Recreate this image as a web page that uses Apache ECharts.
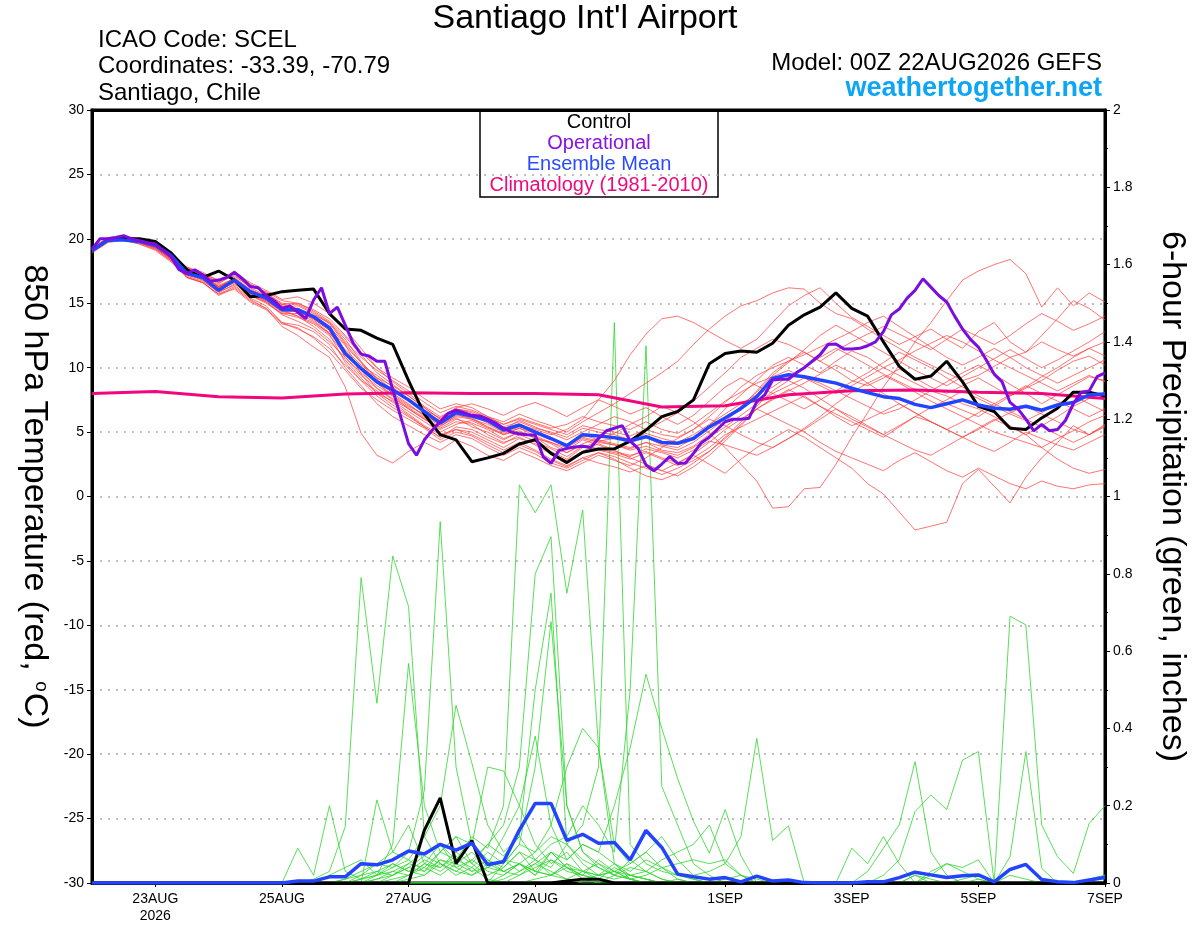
<!DOCTYPE html>
<html>
<head>
<meta charset="utf-8">
<title>Santiago Int'l Airport - GEFS 850 hPa temperature / precipitation</title>
<script src="https://cdn.jsdelivr.net/npm/echarts@6/dist/echarts.min.js"></script>
<style>
  html, body { margin: 0; padding: 0; background: #fff; }
  #chart { width: 1200px; height: 927px; }
</style>
</head>
<body>
<div id="chart"></div>
<script>
// forecast steps (hours after 00Z 22AUG2026)
const STEP_H = 6;        // ensemble members, control, mean
const OP_STEP_H = 3;     // operational run
const CLIM_STEP_H = 24;  // climatology, daily

const tickHours = [24, 72, 120, 168, 240, 288, 336, 384];
const tickLabels = ['23AUG\n2026', '25AUG', '27AUG', '29AUG', '1SEP', '3SEP', '5SEP', '7SEP'];

// 850 hPa temperature, degC
const controlTemp = [
  19.1, 19.9, 20.0, 20.0, 19.8, 18.9, 17.6, 17.0, 17.5, 16.8, 15.5, 15.6, 15.9,
  16.0, 16.1, 14.2, 13.0, 12.9, 12.3, 11.8, 9.0, 6.4, 4.8, 4.4, 2.7, 3.0,
  3.35, 4.07, 4.4, 3.35, 2.63, 3.43, 3.69, 3.7, 4.3, 5.16, 6.2, 6.6, 7.5,
  10.3, 11.1, 11.3, 11.2, 11.9, 13.3, 14.1, 14.7, 15.8, 14.6, 14.0, 12.0, 10.1,
  9.1, 9.35, 10.5, 8.9, 7.0, 6.6, 5.3, 5.2, 6.1, 6.85, 8.1, 8.1, 7.8
];
const meanTemp = [
  19.1, 19.9, 19.9, 19.8, 19.5, 18.7, 17.3, 17.0, 16.0, 16.8, 15.9, 15.4, 14.5,
  14.5, 13.95, 13.1, 11.1, 9.94, 8.9, 8.26, 7.5, 6.6, 5.7, 6.5, 6.25, 5.9,
  5.16, 5.55, 5.0, 4.5, 3.95, 4.8, 4.7, 4.57, 4.33, 4.64, 4.2, 4.13, 4.5,
  5.4, 6.1, 6.84, 7.75, 9.17, 9.45, 9.3, 9.04, 8.8, 8.4, 8.06, 7.75, 7.6,
  7.15, 6.9, 7.2, 7.5, 7.1, 6.85, 6.77, 7.0, 6.7, 7.1, 7.3, 7.9, 7.95
];
const opTemp = [
  19.2, 20.0, 20.0, 20.1, 20.25, 20.0, 19.85, 19.7,
  19.6, 19.1, 18.6, 17.6, 17.3, 17.6, 17.2, 16.7,
  16.8, 17.0, 17.4, 16.9, 16.3, 16.2, 15.6, 15.2,
  14.6, 14.8, 14.3, 13.8, 15.25, 16.2, 14.2, 14.7,
  13.3, 11.9, 11.05, 10.9, 10.5, 10.5, 8.3, 6.2,
  4.1, 3.2, 4.4, 5.15, 5.8, 6.45, 6.7, 6.5,
  6.3, 6.25, 6.0, 5.7, 5.3, 5.0, 4.85, 4.8,
  4.77, 3.1, 2.57, 3.56, 3.74, 3.85, 3.9, 3.8,
  4.5, 5.1, 5.3, 5.5, 4.3, 3.74, 2.45, 2.0,
  2.52, 3.1, 2.57, 2.6, 3.35, 4.18, 4.6, 5.2,
  5.8, 6.0, 6.0, 6.07, 7.36, 7.88, 9.04, 9.1,
  9.1, 9.6, 10.0, 10.5, 11.0, 11.8, 11.84, 11.45,
  11.45, 11.5, 11.7, 12.0, 12.8, 14.1, 14.55, 15.4,
  16.0, 16.9, 16.25, 15.6, 15.1, 14.0, 13.0, 12.2,
  11.6, 10.6, 9.5, 8.9, 7.3, 6.8, 6.0, 5.1,
  5.6, 5.1, 5.2, 5.9, 7.2, 8.1, 8.2, 9.3,
  9.6
];
const climTemp = [8.0, 8.15, 7.75, 7.65, 7.95, 8.05, 8.0, 8.0, 7.9, 6.95, 7.05, 7.9, 8.2, 8.27, 8.1, 8.0, 7.6];

const memberTemp = [
  [19.0,19.8,20.1,19.9,19.5, 18.6,17.8,17.2,16.5,17.3, 16.4,15.8,14.9,14.6,14.1, 13.5,12.2,10.5,9.1,8.0, 7.2,6.2,5.5,6.1,5.4, 5.0,4.4,5.0,4.6,3.8, 3.4,4.1,4.5,4.9,5.6, 6.2,7.0,6.5,5.8,4.9, 3.8,2.5,1.2,-0.9,-0.8, 0.6,0.7,2.5,4.6,6.5, 8.5,10.2,12.0,13.5,15.2, 16.8,17.5,18.0,18.4,17.3, 14.7,16.2,14.8,15.8,15.1],
  [19.2,20.0,19.9,19.7,19.3, 18.5,17.5,16.9,16.2,16.6, 15.6,15.0,14.2,13.9,13.4, 12.5,11.0,9.8,8.4,7.5, 6.8,6.0,5.2,5.8,5.6, 4.8,4.2,4.6,4.0,3.3, 2.8,3.5,4.1,3.6,3.0, 2.5,2.0,2.6,3.2,2.5, 1.8,2.9,3.8,4.5,5.2, 4.6,3.8,3.0,2.2,1.0, 0.2,-1.2,-2.6,-2.3,-2.0, 1.0,2.1,0.8,-0.5,1.5, 3.0,4.2,5.5,4.8,5.6],
  [19.1,19.9,20.0,19.8,19.6, 18.8,17.4,17.0,16.4,16.9, 16.0,15.4,14.6,14.3,13.8, 12.9,11.3,10.0,9.2,8.6, 7.8,6.9,6.0,6.6,6.3, 5.7,5.1,5.6,5.2,4.8, 5.2,6.0,7.5,9.0,11.0, 12.6,13.8,14.0,13.5,12.8, 12.1,11.5,12.2,13.5,14.8, 15.6,16.2,15.0,13.9,13.2, 12.5,11.8,12.4,13.0,12.2, 11.5,12.8,13.5,12.0,11.2, 12.5,13.8,15.2,14.6,13.7],
  [19.3,20.1,20.2,19.9,19.4, 18.4,17.6,17.3,16.8,17.1, 16.3,15.9,15.2,15.0,14.5, 13.8,12.5,11.2,10.0,9.2, 8.5,7.6,6.8,7.2,6.9, 6.2,5.8,6.4,5.9,5.5, 5.0,5.8,6.5,7.2,8.0, 8.8,9.6,10.5,11.8,13.0, 14.0,14.8,15.2,15.8,16.2, 16.1,15.0,14.2,13.8,13.0, 12.2,11.5,10.8,10.2,9.6, 9.0,9.4,10.1,10.8,11.2, 12.0,11.4,10.9,11.5,10.9],
  [18.9,19.7,19.9,19.6,19.2, 18.3,17.1,16.7,15.9,16.4, 15.4,14.8,13.5,13.0,12.4, 11.5,10.2,9.0,7.8,6.9, 6.2,5.4,4.6,5.2,4.8, 4.2,3.6,4.2,3.6,2.9, 2.4,3.0,3.4,3.1,2.6, 2.2,1.7,2.2,2.8,3.5, 4.5,5.6,6.8,7.5,8.2, 8.8,9.5,10.2,9.6,8.8, 8.0,7.2,6.5,5.8,5.2, 4.6,5.2,5.9,6.5,7.0, 6.4,5.8,5.2,4.8,5.5],
  [19.0,19.8,20.0,19.8,19.5, 18.7,17.5,17.1,16.1,16.8, 15.8,15.2,14.4,14.6,13.9, 13.2,11.8,9.5,8.0,7.4, 6.6,5.8,5.0,5.6,5.9, 5.3,4.8,5.1,4.5,4.2, 3.8,4.5,4.2,4.0,3.6, 3.9,3.5,3.2,3.8,4.6, 5.4,6.3,7.2,8.0,8.6, 9.2,8.8,8.2,7.6,7.0, 6.4,6.8,7.5,8.2,7.8, 7.2,6.8,6.2,5.5,4.8, 5.5,6.2,7.0,7.6,8.1],
  [19.2,20.0,20.2,19.9,19.4, 18.6,17.3,16.8,15.8,16.5, 15.6,15.1,14.2,14.2,13.6, 12.6,10.4,9.0,8.2,7.3, 6.4,5.5,4.8,5.2,5.0, 4.4,3.8,4.5,4.1,3.5, 2.9,3.8,4.3,4.5,4.2, 4.6,4.0,3.8,4.5,5.5, 6.8,7.9,9.0,10.2,10.8, 10.2,9.6,10.5,11.3,10.8, 10.0,9.4,8.8,8.2,8.9, 9.6,10.2,9.5,8.7,8.0, 7.2,7.9,8.6,9.3,9.0],
  [19.1,19.8,20.0,19.7,19.3, 18.4,17.0,16.6,15.6,16.2, 15.2,14.6,13.2,12.5,11.6, 10.8,8.5,4.9,3.2,2.6, 3.5,4.2,3.6,4.4,3.9, 3.2,2.8,3.5,3.0,2.4, 2.0,2.6,3.2,2.8,2.4, 3.0,3.8,4.5,5.2,6.0, 5.5,4.8,4.2,3.8,4.5, 5.2,6.0,6.8,6.2,5.5, 4.8,5.5,6.2,5.8,5.2, 4.6,4.0,3.5,4.2,5.0, 4.5,4.0,3.6,4.2,4.8],
  [19.0,19.9,20.1,19.8,19.5, 18.7,17.6,17.0,16.2,17.0, 16.1,15.5,14.7,14.8,14.2, 13.4,11.9,10.4,8.8,7.8, 7.0,6.4,5.6,6.4,6.0, 5.6,5.0,5.4,5.1,4.6, 4.0,4.8,4.4,4.1,3.8, 4.2,3.6,3.4,3.9,4.8, 5.8,6.9,8.2,9.6,10.5, 11.2,10.5,9.8,9.0,8.6, 9.2,9.9,9.2,8.5,8.0, 8.6,9.2,8.5,7.8,8.4, 9.0,9.8,10.5,10.9,10.2],
  [19.2,20.0,20.0,19.8,19.4, 18.6,17.4,16.9,16.0,16.6, 15.7,15.2,14.3,14.4,13.8, 12.9,10.8,9.6,8.6,7.8, 6.8,6.0,5.4,6.3,6.1, 5.4,4.9,5.3,4.7,4.2, 3.6,4.4,4.0,3.5,3.2, 3.5,3.0,2.6,3.3,4.2, 5.2,6.0,6.8,6.2,5.6, 5.0,4.2,3.5,3.0,2.5, 2.0,2.8,3.4,2.7,2.0, 1.5,2.2,1.6,1.0,0.6, 1.2,0.8,0.6,0.9,1.0],
  [19.1,19.9,20.1,19.9,19.6, 18.8,17.7,17.3,16.6,17.2, 16.2,15.6,14.9,15.0,14.4, 13.6,12.4,11.0,9.6,8.7, 7.8,6.9,6.0,6.8,6.5, 5.8,5.2,5.9,5.4,4.9, 4.4,5.0,5.6,6.2,5.8, 5.2,5.8,6.5,7.4,8.5, 9.6,10.8,11.5,12.2,11.8, 11.2,10.5,11.3,12.0,12.6, 13.2,12.6,12.0,11.4,12.2, 13.0,12.4,11.8,12.5,13.4, 14.2,13.6,12.9,13.4,14.0],
  [19.0,19.8,19.9,19.6,19.1, 18.2,17.0,16.6,15.7,16.3, 15.3,14.6,13.5,13.3,12.8, 11.8,10.0,8.6,7.2,6.2, 5.5,4.8,4.2,4.8,4.5, 3.8,3.2,3.8,3.3,2.6, 2.2,2.8,3.4,2.9,2.2, 1.6,1.3,1.8,2.6,3.5, 4.6,5.8,7.0,8.2,9.0, 8.4,7.6,6.8,6.0,5.4, 4.8,4.2,3.6,3.2,3.9, 4.6,5.3,6.0,5.4,4.8, 3.8,2.9,2.2,1.8,2.1],
  [19.3,20.1,20.0,19.7,19.3, 18.5,17.2,16.9,16.3,16.8, 15.9,15.3,14.5,14.0,13.5, 12.7,11.4,10.2,9.4,8.5, 7.5,6.6,5.9,6.5,6.3, 5.9,5.4,5.8,5.3,5.0, 4.6,5.3,5.0,4.8,4.4, 4.9,4.5,4.2,4.8,5.6, 6.4,7.2,7.9,8.5,9.3, 10.0,10.8,11.5,10.9,10.2, 9.5,8.9,8.3,7.8,7.2, 6.7,6.2,7.0,7.8,8.5, 9.3,10.0,10.8,11.5,12.0],
  [19.1,19.9,19.9,19.7,19.4, 18.5,17.3,17.0,16.2,16.7, 15.8,15.3,14.4,14.0,13.2, 12.2,10.6,9.2,8.0,7.1, 6.3,5.4,4.6,5.4,5.2, 4.6,4.1,4.8,4.3,3.7, 3.1,3.9,3.6,3.3,2.9, 3.4,2.9,2.4,3.0,3.8, 4.8,5.4,6.0,6.6,7.2, 7.8,7.0,6.2,5.5,6.0, 6.6,7.2,6.5,5.8,5.2, 5.8,6.5,7.2,6.6,6.0, 5.4,4.8,4.2,4.8,5.4],
  [19.0,19.8,20.1,19.9,19.6, 18.8,17.8,17.4,16.7,17.4, 16.6,16.0,15.3,15.5,15.0, 14.2,13.0,11.5,10.0,8.9, 8.0,7.0,6.2,6.8,6.6, 6.1,5.6,6.0,5.6,5.2, 4.8,5.5,5.2,5.0,4.7, 5.2,4.8,4.6,5.2,6.2, 7.3,8.5,9.4,10.0,10.5, 11.0,11.6,12.2,12.8,13.5, 14.0,13.2,12.4,11.6,10.8, 10.2,10.8,11.5,10.8,10.0, 9.4,8.8,9.4,10.0,10.6],
  [19.2,20.0,20.1,19.8,19.3, 18.4,17.2,16.8,16.0,16.9, 16.0,15.6,14.8,14.5,13.9, 13.0,11.7,10.4,9.2,8.3, 7.4,6.7,6.1,6.9,7.2, 6.8,6.3,6.9,7.3,6.8, 6.2,6.9,7.5,7.0,6.4, 6.9,6.2,5.6,6.3,7.4, 8.5,9.2,8.6,8.0,7.4, 6.8,7.5,8.2,8.9,9.6, 10.4,11.2,10.6,10.0,9.2, 8.5,7.8,7.2,7.9,8.6, 8.0,7.4,6.8,6.2,6.8],
  [19.1,19.9,20.0,19.8,19.5, 18.6,17.4,17.1,16.3,16.7, 15.7,15.1,14.1,13.6,13.0, 12.0,10.8,9.4,8.4,7.6, 6.9,6.1,5.3,6.0,5.7, 5.2,4.5,5.0,4.6,4.1, 3.4,4.0,3.7,3.4,3.1, 3.7,3.4,3.0,3.6,4.3, 4.0,3.6,3.2,3.8,4.5, 5.3,6.2,7.2,8.1,8.8, 9.4,8.8,8.1,7.4,6.8, 6.2,5.6,5.0,4.6,4.2, 3.8,4.5,5.1,5.8,6.3],
  [19.0,19.9,20.2,20.0,19.6, 18.7,17.7,17.2,16.6,17.5, 16.5,15.8,15.0,14.9,14.3, 13.5,12.0,10.8,9.8,9.0, 8.2,7.3,6.5,7.0,6.7, 6.2,5.6,6.1,5.7,5.3, 5.6,6.2,5.8,5.5,5.2, 5.8,5.2,4.9,5.6,6.5, 7.4,8.1,8.8,9.3,9.8, 9.2,8.6,8.0,8.6,9.3, 10.0,10.6,11.3,11.9,12.5, 12.0,11.3,10.6,10.0,9.4, 8.8,8.2,8.8,9.4,8.9],
  [19.2,20.0,20.0,19.7,19.2, 18.3,17.0,16.6,15.7,16.1, 15.1,14.5,13.4,13.1,12.3, 11.2,9.8,8.4,7.5,6.7, 6.0,5.3,4.4,5.0,4.7, 4.0,3.4,4.0,3.5,2.8, 2.3,3.0,2.6,2.3,1.9, 2.4,2.0,1.6,2.3,3.2, 4.3,5.5,6.8,7.6,8.3, 7.7,7.0,6.4,5.8,5.2, 4.6,5.4,6.2,6.9,7.5, 8.2,7.6,7.0,6.4,5.9, 6.5,7.2,7.8,7.2,6.6],
  [19.1,19.9,20.1,19.9,19.5, 18.6,17.5,17.0,16.3,16.9, 16.0,15.4,14.6,14.4,13.7, 12.7,11.2,9.8,8.8,7.9, 7.1,6.3,5.6,6.2,6.0, 5.4,4.8,5.3,4.9,4.4, 3.9,4.6,4.3,4.0,3.7, 4.2,3.9,3.6,4.2,5.1, 6.0,7.0,8.1,9.4,10.4, 11.4,12.5,13.3,12.6,11.9, 11.2,10.5,9.8,9.2,8.6, 9.3,10.0,10.7,11.4,10.7, 10.0,10.6,11.3,12.0,12.8]
];

// 6-hour precipitation, inches
const controlPrecip = [
  0, 0, 0, 0, 0, 0, 0, 0, 0, 0, 0, 0, 0,
  0, 0, 0, 0, 0, 0, 0, 0, 0.137, 0.22, 0.05, 0.11, 0,
  0, 0, 0, 0, 0.005, 0.01, 0.01, 0, 0, 0, 0, 0, 0,
  0, 0, 0, 0, 0, 0, 0, 0, 0, 0, 0, 0, 0,
  0, 0, 0, 0, 0, 0, 0, 0, 0, 0, 0, 0, 0
];
const meanPrecip = [
  0, 0, 0, 0, 0, 0, 0, 0, 0, 0, 0, 0, 0,
  0.005, 0.005, 0.016, 0.016, 0.05, 0.047, 0.06, 0.083, 0.075, 0.1, 0.085, 0.103, 0.048,
  0.055, 0.137, 0.206, 0.206, 0.11, 0.126, 0.103, 0.105, 0.06, 0.136, 0.092, 0.023, 0.016,
  0.01, 0.014, 0.003, 0.018, 0.005, 0.008, 0.001, 0, 0, 0, 0.003, 0.003, 0.014,
  0.028, 0.021, 0.014, 0.019, 0.021, 0.003, 0.035, 0.048, 0.009, 0.003, 0.001, 0.008, 0.014
];
const memberPrecip = [
  [0,0,0,0,0,0,0,0,0,0,0,0,0, 0,0.01,0.03,0.146,0.79,0.465,0.846,0.715,0.12,0.05,0.02,0.04,0.01, 0,0.02,0.05,0.03,0.01,0,0,0.02,0.01,0,0,0,0, 0,0,0,0,0,0,0,0,0,0,0,0,0, 0,0,0,0,0,0,0,0,0,0,0,0,0],
  [0,0,0,0,0,0,0,0,0,0,0,0,0, 0,0,0.02,0.04,0.06,0.02,0.1,0.568,0.2,0.08,0.12,0.05,0.02, 0.04,0.08,0.03,0.02,0.05,0.01,0,0,0,0,0,0,0, 0,0,0,0,0,0,0,0,0,0,0,0,0, 0,0,0,0,0,0,0,0,0,0,0,0,0],
  [0,0,0,0,0,0,0,0,0,0,0,0,0, 0,0,0,0.01,0.03,0.05,0.04,0.08,0.24,0.935,0.3,0.1,0.06, 0.03,0.05,0.02,0.08,0.04,0.02,0.01,0,0,0,0,0,0, 0,0,0,0,0,0,0,0,0,0,0,0,0, 0.02,0,0,0,0,0,0,0,0,0,0,0,0],
  [0,0,0,0,0,0,0,0,0,0,0,0,0, 0,0,0,0,0.02,0.05,0.08,0.06,0.12,0.2,0.46,0.31,0.15, 0.08,0.12,0.06,0.04,0.1,0.05,0.02,0.03,0.01,0,0,0,0, 0,0,0,0,0,0,0,0,0,0,0,0,0, 0,0,0,0,0,0,0,0,0,0,0,0,0],
  [0,0,0,0,0,0,0,0,0,0,0,0,0, 0,0,0,0,0.01,0.02,0.03,0.05,0.08,0.1,0.06,0.12,0.09, 0.2,1.03,0.958,1.03,0.75,0.965,0.35,0.05,0.02,0.01,0,0,0, 0,0,0,0,0,0,0,0,0,0,0,0,0, 0,0,0,0,0,0,0,0,0,0,0,0,0],
  [0,0,0,0,0,0,0,0,0,0,0,0,0, 0,0,0,0,0,0.01,0.02,0.04,0.07,0.05,0.03,0.06,0.1, 0.15,0.3,0.8,0.896,0.2,0.08,0.05,0.03,0.02,0.01,0,0,0, 0,0,0,0,0,0,0,0,0,0,0,0,0, 0,0,0,0,0,0,0,0,0,0,0,0,0],
  [0,0,0,0,0,0,0,0,0,0,0,0,0, 0,0,0,0.01,0.02,0.03,0.05,0.03,0.06,0.04,0.08,0.05,0.1, 0.07,0.12,0.5,0.75,0.1,0.06,0.04,0.02,0.06,0.03,0.01,0,0, 0,0,0,0,0,0,0,0,0,0,0,0,0, 0,0,0,0,0,0,0,0,0,0,0,0,0],
  [0,0,0,0,0,0,0,0,0,0,0,0,0, 0,0,0,0,0,0,0.02,0.04,0.03,0.06,0.05,0.08,0.04, 0.06,0.05,0.08,0.12,0.1,0.15,0.3,1.45,0.1,0.05,0.03,0.02,0.01, 0,0,0,0,0,0,0,0,0,0,0,0,0, 0,0,0,0,0,0,0,0,0,0,0,0,0],
  [0,0,0,0,0,0,0,0,0,0,0,0,0, 0,0,0,0,0,0.01,0.03,0.02,0.05,0.04,0.07,0.03,0.06, 0.04,0.08,0.06,0.1,0.12,0.2,0.15,0.08,0.5,1.39,0.25,0.15,0.05, 0.02,0,0,0,0,0,0,0,0,0,0,0,0, 0,0,0,0,0,0,0,0,0,0,0,0,0],
  [0,0,0,0,0,0,0,0,0,0,0,0,0, 0,0,0,0,0,0,0.01,0.02,0.04,0.02,0.05,0.03,0.04, 0.06,0.03,0.05,0.08,0.06,0.1,0.08,0.2,0.35,0.54,0.4,0.27,0.16, 0.077,0.19,0.07,0,0,0,0,0,0,0,0,0,0, 0,0,0,0,0,0,0,0,0,0,0,0,0],
  [0,0,0,0,0,0,0,0,0,0,0,0,0, 0,0,0,0,0,0,0,0.01,0.02,0.05,0.03,0.02,0.04, 0.03,0.05,0.02,0.06,0.04,0.03,0.05,0.02,0.04,0.03,0.06,0.08,0.1, 0.15,0.05,0.12,0.374,0.11,0.148,0,0,0,0,0,0,0, 0,0,0,0,0,0,0,0,0,0,0,0,0],
  [0,0,0,0,0,0,0,0,0,0,0,0,0, 0,0,0,0,0,0,0,0,0,0,0,0,0, 0,0,0.01,0.02,0.01,0.03,0.02,0.01,0.02,0.03,0.01,0,0, 0,0,0,0,0,0,0,0,0,0,0.03,0.09,0.15, 0.314,0.08,0.02,0,0,0,0,0,0,0,0,0,0],
  [0,0,0,0,0,0,0,0,0,0,0,0,0, 0,0,0,0,0,0,0,0,0,0,0,0,0, 0.02,0.05,0.03,0.08,0.04,0.02,0.06,0.03,0.01,0.02,0.04,0.01,0, 0,0,0,0,0,0,0,0,0,0,0,0.02,0.06, 0.185,0.228,0.19,0.318,0.34,0,0.02,0.01,0,0,0,0,0],
  [0,0,0,0,0,0,0,0,0,0,0,0,0, 0,0,0,0,0,0,0,0,0,0,0,0,0, 0.01,0.03,0.06,0.02,0.05,0.03,0.01,0.04,0.02,0.01,0,0.01,0, 0,0,0,0,0,0,0,0,0,0,0,0,0, 0.02,0.01,0,0,0.01,0,0.69,0.668,0.15,0.068,0.025,0.154,0.2],
  [0,0,0,0,0,0,0,0,0,0,0,0,0, 0,0,0,0,0,0,0,0,0,0,0,0,0, 0.05,0.1,0.08,0.15,0.06,0.1,0.08,0.05,0.03,0.06,0.04,0.05,0.06, 0.05,0.06,0.02,0,0,0,0,0,0,0.09,0.05,0.12,0.05, 0,0.03,0.05,0.04,0.06,0,0.068,0.34,0.038,0,0,0.01,0.02],
  [0,0,0,0,0,0,0,0,0,0,0,0,0, 0.09,0.02,0.2,0.03,0.01,0.02,0.05,0.03,0.02,0.06,0.04,0.02,0.05, 0.03,0.02,0.04,0.06,0.03,0.02,0.01,0,0,0,0,0,0, 0,0,0,0,0,0,0,0,0,0,0,0,0, 0,0,0,0,0,0,0,0,0,0,0,0.01,0.02],
  [0,0,0,0,0,0,0,0,0,0,0,0,0, 0,0,0,0,0.01,0.03,0.02,0.05,0.04,0.08,0.06,0.1,0.05, 0.12,0.2,0.38,0.15,0.3,0.4,0.35,0.1,0.05,0.08,0.04,0.02,0.01, 0,0.01,0.02,0.01,0,0,0,0,0,0,0,0,0, 0,0,0,0,0,0,0,0,0,0,0,0,0],
  [0,0,0,0,0,0,0,0,0,0,0,0,0, 0,0,0,0,0,0.02,0.04,0.06,0.03,0.08,0.12,0.1,0.3, 0.29,0.2,0.1,0.05,0.08,0.03,0.02,0.05,0.01,0,0,0,0, 0,0,0,0,0,0,0,0,0,0,0,0,0, 0,0,0,0.01,0.02,0,0,0,0,0,0,0,0],
  [0,0,0,0,0,0,0,0,0,0,0,0,0, 0,0,0,0,0,0,0,0.02,0.05,0.03,0.06,0.04,0.08, 0.05,0.1,0.3,0.676,0.2,0.08,0.04,0.02,0.01,0,0,0,0, 0,0,0,0,0,0,0,0,0,0,0,0,0, 0,0.02,0.05,0.03,0.01,0,0,0,0,0,0,0,0],
  [0,0,0,0,0,0,0,0,0,0,0,0,0, 0,0,0,0,0,0.215,0.08,0.15,0.05,0.1,0.04,0.06,0.03, 0.02,0.05,0.03,0.02,0.04,0.01,0.02,0.03,0.05,0.08,0.12,0.06,0.02, 0.03,0.05,0.02,0,0,0,0,0,0,0,0,0,0, 0,0,0,0,0,0,0,0,0,0,0,0,0]
];

const FONT = '"Liberation Sans", Arial, Helvetica, sans-serif';

function toPairs(values, stepHours) {
    return values.map((v, i) => [i * stepHours, v]);
}

function lineSeries(name, values, stepHours, color, width, yAxisIndex, z) {
    return {
        name: name,
        type: 'line',
        yAxisIndex: yAxisIndex,
        data: toPairs(values, stepHours),
        showSymbol: false,
        symbol: 'none',
        silent: true,
        z: z,
        lineStyle: { color: color, width: width },
        emphasis: { disabled: true }
    };
}

const series = [];

memberPrecip.forEach((m, k) => {
    series.push(lineSeries('precip member ' + (k + 1), m, STEP_H, '#2ed62e', 0.8, 1, 2));
});
memberTemp.forEach((m, k) => {
    series.push(lineSeries('temp member ' + (k + 1), m, STEP_H, 'rgba(255,60,60,0.85)', 0.85, 0, 3));
});
series.push(lineSeries('Climatology (1981-2010)', climTemp, CLIM_STEP_H, '#f2067e', 3, 0, 5));
series.push(lineSeries('Control precip', controlPrecip, STEP_H, '#000000', 3, 1, 6));
series.push(lineSeries('Control', controlTemp, STEP_H, '#000000', 3, 0, 6));
series.push(lineSeries('Ensemble Mean precip', meanPrecip, STEP_H, '#2344ff', 3.5, 1, 7));
series.push(lineSeries('Ensemble Mean', meanTemp, STEP_H, '#2344ff', 3.5, 0, 7));
series.push(lineSeries('Operational', opTemp, OP_STEP_H, '#7c0de0', 3, 0, 8));

const labelByHour = {};
tickHours.forEach((h, i) => { labelByHour[h] = tickLabels[i]; });

const legendLines = [
    { text: 'Control', color: '#000000' },
    { text: 'Operational', color: '#8a12e2' },
    { text: 'Ensemble Mean', color: '#2a4cff' },
    { text: 'Climatology (1981-2010)', color: '#ee0a7c' }
];

const chart = echarts.init(document.getElementById('chart'));

const option = {
    animation: false,
    backgroundColor: '#ffffff',
    textStyle: { fontFamily: FONT },
    grid: {
        left: 92, right: 95, top: 110, bottom: 44,
        show: true, borderColor: '#000', borderWidth: 3
    },
    xAxis: [
        {
            type: 'value',
            position: 'bottom',
            min: 0,
            max: 384,
            interval: 24,
            axisLine: { show: true, onZero: false, lineStyle: { color: '#000', width: 3 } },
            axisTick: { show: true, customValues: tickHours, length: 4, lineStyle: { color: '#000', width: 1 } },
            axisLabel: {
                customValues: tickHours,
                formatter: v => labelByHour[v] || '',
                color: '#000', fontSize: 14, fontFamily: FONT, lineHeight: 17, margin: 8
            },
            splitLine: { show: false }
        },
        {
            // plain top frame line
            type: 'value',
            position: 'top',
            min: 0,
            max: 384,
            axisLine: { show: true, onZero: false, lineStyle: { color: '#000', width: 3 } },
            axisTick: { show: false },
            axisLabel: { show: false },
            splitLine: { show: false }
        }
    ],
    yAxis: [
        {
            type: 'value',
            position: 'left',
            min: -30, max: 30, interval: 5,
            name: '850 hPa Temperature (red, {sup|o}C)',
            nameLocation: 'middle',
            nameRotate: -90,
            nameGap: 41,
            nameTextStyle: {
                fontSize: 34, color: '#000', fontFamily: FONT,
                rich: { sup: { fontSize: 19, fontFamily: FONT, color: '#000', verticalAlign: 'top', padding: [0, 1, 14, 1] } }
            },
            axisLine: { show: true, onZero: false, lineStyle: { color: '#000', width: 3 } },
            axisTick: { show: true, length: 5, lineStyle: { color: '#000', width: 1 } },
            axisLabel: { color: '#000', fontSize: 14, fontFamily: FONT, margin: 8 },
            splitLine: { show: true, showMinLine: false, showMaxLine: false, lineStyle: { color: '#aaaaaa', width: 1.5, type: [2, 6] } }
        },
        {
            type: 'value',
            position: 'right',
            min: 0, max: 2, interval: 0.2,
            name: '6-hour Precipitation (green, inches)',
            nameLocation: 'middle',
            nameRotate: -90,
            nameGap: 50,
            nameTextStyle: { fontSize: 34, color: '#000', fontFamily: FONT },
            axisLine: { show: true, onZero: false, lineStyle: { color: '#000', width: 3 } },
            axisTick: { show: true, length: 5, lineStyle: { color: '#000', width: 1 } },
            minorTick: { show: true, splitNumber: 2, length: 3, lineStyle: { color: '#000', width: 1 } },
            axisLabel: { color: '#000', fontSize: 14, fontFamily: FONT, margin: 8 },
            splitLine: { show: false }
        }
    ],
    graphic: [
        { type: 'text', x: 585, y: 19, style: { text: "Santiago Int'l Airport", font: '34px ' + FONT, fill: '#000', textAlign: 'center', textVerticalAlign: 'middle' } },
        { type: 'text', x: 98, y: 40, style: { text: 'ICAO Code: SCEL', font: '24px ' + FONT, fill: '#000', textAlign: 'left', textVerticalAlign: 'middle' } },
        { type: 'text', x: 98, y: 66, style: { text: 'Coordinates: -33.39, -70.79', font: '24px ' + FONT, fill: '#000', textAlign: 'left', textVerticalAlign: 'middle' } },
        { type: 'text', x: 98, y: 93, style: { text: 'Santiago, Chile', font: '24px ' + FONT, fill: '#000', textAlign: 'left', textVerticalAlign: 'middle' } },
        { type: 'text', x: 1102, y: 63, style: { text: 'Model: 00Z 22AUG2026 GEFS', font: '24px ' + FONT, fill: '#000', textAlign: 'right', textVerticalAlign: 'middle' } },
        { type: 'text', x: 1102, y: 89, style: { text: 'weathertogether.net', font: 'bold 27px ' + FONT, fill: '#0ea5f4', textAlign: 'right', textVerticalAlign: 'middle' } },
        {
            type: 'group',
            z: 100,
            children: [
                { type: 'rect', shape: { x: 480, y: 110, width: 238, height: 87 }, style: { fill: '#fff', stroke: '#000', lineWidth: 1.5 } }
            ].concat(legendLines.map((l, i) => ({
                type: 'text', x: 599, y: 122 + i * 21.3,
                style: { text: l.text, font: '20px ' + FONT, fill: l.color, textAlign: 'center', textVerticalAlign: 'middle' }
            })))
        }
    ],
    series: series
};

chart.setOption(option);
</script>
</body>
</html>
